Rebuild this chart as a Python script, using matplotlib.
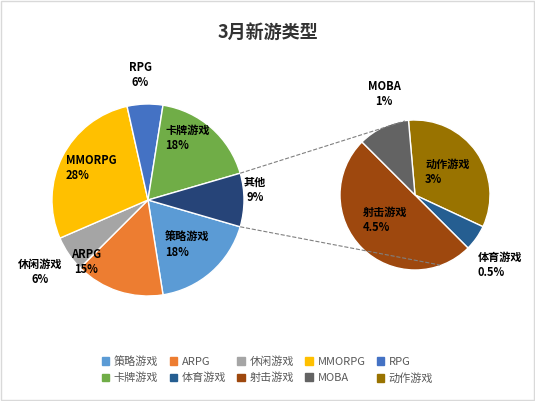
import matplotlib.pyplot as plt
import numpy as np
from matplotlib.patches import Patch

plt.rcParams['font.family'] = ['Noto Sans CJK SC', 'DejaVu Sans']

main_labels = ['策略游戏', 'ARPG', '休闲游戏', 'MMORPG', 'RPG', '卡牌游戏', '其他']
main_values = [18, 15, 6, 28, 6, 18, 9]
main_colors = ['#5B9BD5', '#ED7D31', '#A5A5A5', '#FFC000', '#4472C4', '#70AD47', '#264478']

sub_labels = ['动作游戏', '体育游戏', '射击游戏', 'MOBA']
sub_values = [3, 0.5, 4.5, 1]
sub_colors = ['#997300', '#255E91', '#9E480E', '#636363']

W, H = 535, 401
fig = plt.figure(figsize=(W / 100, H / 100), dpi=100)
ax = fig.add_axes([0, 0, 1, 1])

c1, r1 = (148, H - 200), 96
c2, r2 = (415, H - 195), 75
start1 = -main_values[-1] / 2 * 3.6
ax.pie(main_values, colors=main_colors, center=c1, radius=r1, startangle=start1,
       counterclock=False, wedgeprops=dict(edgecolor='white', linewidth=1), frame=True)
ax.pie(sub_values, colors=sub_colors, center=c2, radius=r2, startangle=95,
       counterclock=False, wedgeprops=dict(edgecolor='white', linewidth=1), frame=True)
ax.set_xlim(0, W)
ax.set_ylim(0, H)
ax.set_aspect('equal')
ax.axis('off')

# connector lines
a = np.deg2rad(-start1)
p_top = (c1[0] + r1 * np.cos(a), c1[1] + r1 * np.sin(a))
p_bot = (c1[0] + r1 * np.cos(-a), c1[1] + r1 * np.sin(-a))
q_top = (c2[0] - 10, c2[1] + r2 - 1)
q_bot = (c2[0] + 25, c2[1] - r2 + 5)
for p, q in [(p_top, q_top), (p_bot, q_bot)]:
    ax.plot([p[0], q[0]], [p[1], q[1]], ls='--', color='#808080', lw=0.8)

kw = dict(fontsize=8, fontweight='bold', color='black', va='center')
label_pos = [
    ('RPG\n6%', 140, 75, 'center'),
    ('卡牌游戏\n18%', 165, 138, 'left'),
    ('其他\n9%', 255, 190, 'center'),
    ('策略游戏\n18%', 165, 245, 'left'),
    ('ARPG\n15%', 86, 262, 'center'),
    ('休闲游戏\n6%', 40, 272, 'center'),
    ('MMORPG\n28%', 66, 168, 'left'),
    ('MOBA\n1%', 384, 94, 'center'),
    ('动作游戏\n3%', 425, 172, 'left'),
    ('射击游戏\n4.5%', 363, 220, 'left'),
    ('体育游戏\n0.5%', 478, 265, 'left'),
]
for t, x, y, ha in label_pos:
    ax.text(x, H - y, t, ha=ha, **kw)

ax.text(W / 2, H - 32, '3月新游类型', ha='center', va='center', fontsize=13,
        fontweight='bold', color='#333333')

row1 = list(zip(main_labels[:5], main_colors[:5]))
row2 = [('卡牌游戏', main_colors[5]), ('体育游戏', sub_colors[1]), ('射击游戏', sub_colors[2]),
        ('MOBA', sub_colors[3]), ('动作游戏', sub_colors[0])]
items = [it for pair in zip(row1, row2) for it in pair]  # legend fills column by column
handles = [Patch(color=c) for _, c in items]
names = [n for n, _ in items]
fig.legend(handles, names, ncol=5, loc='center', bbox_to_anchor=(0.5, (H - 370) / H),
           frameon=False, fontsize=8, handlelength=0.7, handleheight=0.7,
           columnspacing=1.0, handletextpad=0.4, labelcolor='#595959')

fig.patches.append(plt.Rectangle((0.002, 0.002), 0.996, 0.996, transform=fig.transFigure,
                                 fill=False, edgecolor='#D9D9D9', lw=1))
fig.savefig('out.png', dpi=100)
